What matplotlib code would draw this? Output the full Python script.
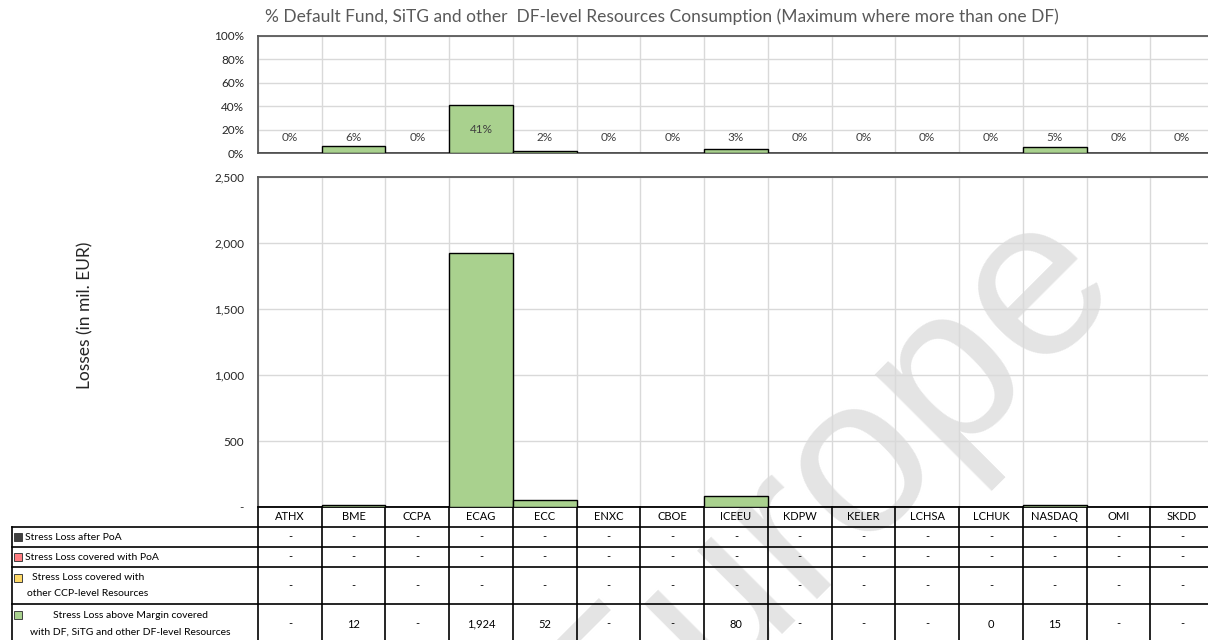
import matplotlib
matplotlib.use("Agg")
import matplotlib.pyplot as plt
import matplotlib.transforms as mtransforms
import numpy as np

plt.rcParams["font.family"] = ["Lato", "DejaVu Sans"]

# data
ccps = ["ATHX", "BME", "CCPA", "ECAG", "ECC", "ENXC", "CBOE", "ICEEU",
        "KDPW", "KELER", "LCHSA", "LCHUK", "NASDAQ", "OMI", "SKDD"]
df_pct = [0, 6, 0, 41, 2, 0, 0, 3, 0, 0, 0, 0.4, 5, 0, 0]
loss_after_poa = [0, 0, 0, 0, 0, 0, 0, 0, 0, 0, 0, 0, 0, 0, 0]
loss_covered_poa = [0, 0, 0, 0, 0, 0, 0, 0, 0, 0, 0, 0, 0, 0, 0]
loss_other_ccp = [0, 0, 0, 0, 0, 0, 0, 0, 0, 0, 0, 0, 0, 0, 0]
loss_df = [0, 12, 0, 1924, 52, 0, 0, 80, 0, 0, 0, 0.3, 15, 0, 0]
pct_ticks = [0, 20, 40, 60, 80, 100]
loss_ticks = [0, 500, 1000, 1500, 2000, 2500]

green = "#a9d18e"
key_colors = ["#404040", "#ff7c80", "#ffd966", green]
frame = "#595959"
gridc = "#d9d9d9"
txt = "#262626"

W, H = 1208, 640
def rect(l, t, r, b):
    return [l / W, 1 - b / H, (r - l) / W, (b - t) / H]

fig = plt.figure(figsize=(W / 100, H / 100), dpi=100)
fig.patch.set_facecolor("white")

ax_top = fig.add_axes(rect(258, 36, 1214, 153))
ax = fig.add_axes(rect(258, 177, 1214, 507))

x = np.arange(len(ccps))
for a in (ax_top, ax):
    a.set_facecolor("none")
    a.set_xlim(-0.5, len(ccps) - 0.5)
    a.set_xticks([])
    a.set_xticks(np.arange(-0.5, len(ccps), 1), minor=True)
    a.grid(True, which="minor", axis="x", color=gridc, lw=1, zorder=0)
    a.grid(True, which="major", axis="y", color=gridc, lw=1, zorder=0)
    a.tick_params(which="both", length=0, labelsize=8.5, labelcolor=txt, pad=10)
    for s in a.spines.values():
        s.set_color(frame)
        s.set_linewidth(1.3)

# top panel: % consumption
ax_top.bar(x, df_pct, width=1, color=green, edgecolor="black", lw=1, zorder=3)
ax_top.set_ylim(0, 100)
ax_top.set_yticks(pct_ticks)
ax_top.set_yticklabels([f"{t}%" for t in pct_ticks])
for xi, v in zip(x, df_pct):
    ax_top.text(xi, max(v / 2, 13), f"{v:.0f}%", ha="center", va="center",
                fontsize=8.5, color="#404040", zorder=4)

# bottom panel: losses
ax.bar(x, loss_df, width=1, color=green, edgecolor="black", lw=1, zorder=3)
ax.set_ylim(0, 2500)
ax.set_yticks(loss_ticks)
ax.set_yticklabels(["-" if t == 0 else f"{t:,}" for t in loss_ticks])
ax.spines["bottom"].set_color("black")

# data table under the chart
trans = mtransforms.blended_transform_factory(ax.transData, ax.transAxes)
def yf(p):
    return (507 - p) / 330.0
def xa(p):
    return (p - 258) / 956.0

row_edges = [527, 547, 567, 604, 641]
for p in row_edges:
    ax.plot([xa(12), 1], [yf(p), yf(p)], color="black", lw=1.2,
            transform=ax.transAxes, clip_on=False)
for b in np.arange(-0.5, len(ccps), 1):
    ax.plot([b, b], [yf(507), yf(641)], color="black", lw=1.2,
            transform=trans, clip_on=False)
ax.plot([xa(12), xa(12)], [yf(527), yf(641)], color="black", lw=1.2,
        transform=ax.transAxes, clip_on=False)

for xi, name in zip(x, ccps):
    ax.text(xi, yf(517), name, transform=trans, ha="center", va="center",
            fontsize=8, color="black")

rows = [loss_after_poa, loss_covered_poa, loss_other_ccp, loss_df]
row_mid = [537, 557, 585.5, 624]
for vals, ym in zip(rows, row_mid):
    for xi, v in zip(x, vals):
        s = "-" if v == 0 else f"{v:,.0f}"
        ax.text(xi, yf(ym), s, transform=trans, ha="center", va="center",
                fontsize=8, color="black")

# legend keys and row labels
key_y = [537, 557, 578, 615]
for c, ky in zip(key_colors, key_y):
    ax.plot([xa(18)], [yf(ky)], marker="s", ms=6, mfc=c, mec="#404040",
            mew=0.7, transform=ax.transAxes, clip_on=False)
label_lines = [
    ("Stress Loss after PoA", 25, 537),
    ("Stress Loss covered with PoA", 25, 557),
    ("Stress Loss covered with", 32, 578),
    ("other CCP-level Resources", 27, 594),
    ("Stress Loss above Margin covered", 53, 616),
    ("with DF, SiTG and other DF-level Resources", 30, 632),
]
for s, px, py in label_lines:
    ax.text(xa(px), yf(py), s, transform=ax.transAxes, ha="left",
            va="center", fontsize=7.5, color="black")

fig.text(662 / W, 1 - 17 / H,
         "% Default Fund, SiTG and other  DF-level Resources Consumption (Maximum where more than one DF)",
         ha="center", va="center", fontsize=12.5, color=frame)
fig.text(85 / W, 1 - 315 / H, "Losses (in mil. EUR)", rotation=90,
         ha="center", va="center", fontsize=12.5, color=txt)

# watermark
fig.text(864 / W, 1 - 534 / H, "Europe", rotation=45, rotation_mode="anchor",
         ha="center", va="baseline", fontsize=162, color="#e4e4e4",
         family="Liberation Sans", zorder=-1)

fig.savefig("out.png", dpi=100)
